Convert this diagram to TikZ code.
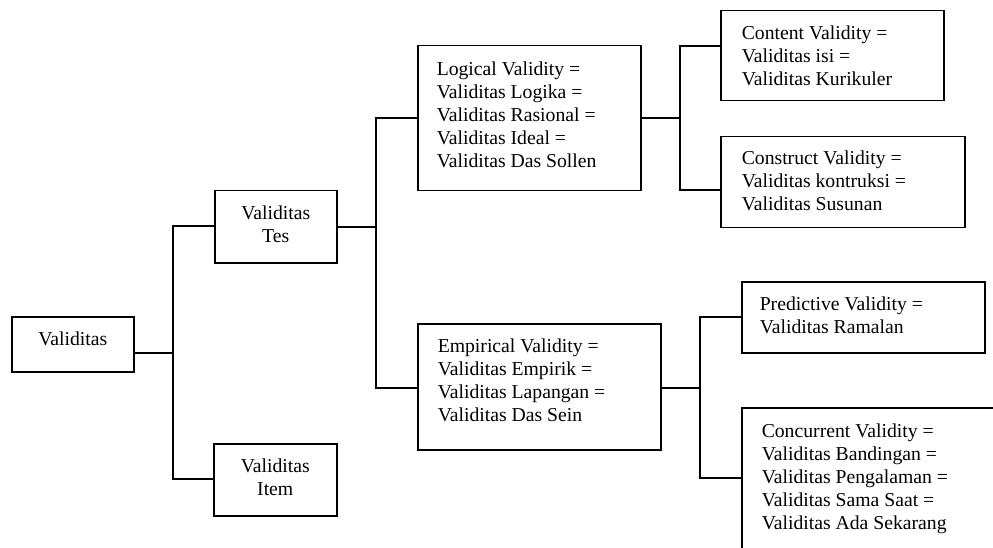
\documentclass[tikz,border=0pt]{standalone}
\usepackage{fontspec}
\setmainfont{Liberation Serif}
\newcommand\lbox[5]{\parbox[t][#2pt][t]{#1pt}{\raggedright\leftskip=#4pt\relax\vspace*{#3pt}#5}}
\newcommand\cbox[4]{\parbox[t][#2pt][t]{#1pt}{\centering\vspace*{#3pt}#4}}
\begin{document}
\begin{tikzpicture}[x=1pt,y=-1pt,
  box/.style={draw, line width=1.5pt, inner sep=0pt, anchor=north west,
    font=\fontsize{19.7pt}{23pt}\selectfont},
  conn/.style={line width=1.3pt}]
\useasboundingbox (0,0) rectangle (993,548);
\clip (0,0) rectangle (993,548);

\node[box] (val) at (11,316) {\cbox{122}{55}{15}{Validitas}};
\node[box] (tes) at (214,190) {\cbox{122}{72}{15}{Validitas\\Tes}};
\node[box] (item) at (213,443) {\cbox{123}{72}{15}{Validitas\\Item}};
\node[box] (logic) at (417,45) {\lbox{223}{145}{16}{19}{Logical Validity =\\Validitas Logika =\\Validitas Rasional =\\Validitas Ideal =\\Validitas Das Sollen}};
\node[box] (emp) at (417,323) {\lbox{243}{126}{15}{20}{Empirical Validity =\\Validitas Empirik =\\Validitas Lapangan =\\Validitas Das Sein}};
\node[box] (content) at (720,10) {\lbox{223}{90}{15}{21}{Content Validity =\\Validitas isi =\\Validitas Kurikuler}};
\node[box] (construct) at (720,136) {\lbox{244}{91}{14}{21}{Construct Validity =\\Validitas kontruksi =\\Validitas Susunan}};
\node[box] (pred) at (741,281) {\lbox{243}{71}{15}{18}{Predictive Validity =\\Validitas Ramalan}};
\node[box] (conc) at (741,407) {\lbox{300}{200}{16}{20}{Concurrent Validity =\\Validitas Bandingan =\\Validitas Pengalaman =\\Validitas Sama Saat =\\Validitas Ada Sekarang}};

\coordinate (j1t) at (173,226);
\coordinate (j1m) at (173,353);
\coordinate (j1b) at (173,479);
\coordinate (j2t) at (376,118);
\coordinate (j2m) at (376,227);
\coordinate (j2b) at (376,388);
\coordinate (j3t) at (680,46);
\coordinate (j3m) at (680,118);
\coordinate (j3b) at (680,190);
\coordinate (j4t) at (700,317);
\coordinate (j4m) at (700,388);
\coordinate (j4b) at (700,478);

\draw[conn] (val.east |- j1m) -- (j1m);
\draw[conn] (tes.west |- j1t) -- (j1t) -- (j1b) -- (item.west |- j1b);
\draw[conn] (tes.east |- j2m) -- (j2m);
\draw[conn] (logic.west |- j2t) -- (j2t) -- (j2b) -- (emp.west |- j2b);
\draw[conn] (logic.east |- j3m) -- (j3m);
\draw[conn] (content.west |- j3t) -- (j3t) -- (j3b) -- (construct.west |- j3b);
\draw[conn] (emp.east |- j4m) -- (j4m);
\draw[conn] (pred.west |- j4t) -- (j4t) -- (j4b) -- (conc.west |- j4b);
\end{tikzpicture}
\end{document}
